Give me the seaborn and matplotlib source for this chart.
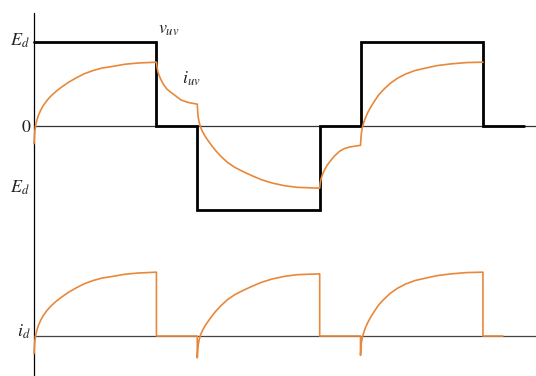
import numpy as np
import pandas as pd
import matplotlib
matplotlib.use("Agg")
import matplotlib.pyplot as plt
import seaborn as sns

# Phase angle (degrees) of the switching instants and output voltage levels (per unit of E_d)
v_angle = [0, 135, 135, 180, 180, 315, 315, 360, 360, 495, 495, 540]
v_level = [1, 1, 0, 0, -1, -1, 0, 0, 1, 1, 0, 0]

# Load current i_uv (per unit), sampled along each interval
seg1_angle = [0, 0.5, 1, 2, 3.5, 5, 7.5, 10, 14, 18, 24, 30, 38, 46, 55, 65, 75, 87,
              100, 115, 135]
seg1_i = [-0.21, -0.12, -0.05, 0.02, 0.08, 0.13, 0.19, 0.24, 0.30, 0.35, 0.41, 0.46,
          0.52, 0.57, 0.62, 0.66, 0.69, 0.71, 0.735, 0.75, 0.76]
seg2_angle = [135, 135.5, 136.5, 138, 140, 143, 146.5, 151, 156, 162, 170, 180]
seg2_i = [0.76, 0.71, 0.65, 0.60, 0.55, 0.49, 0.44, 0.40, 0.36, 0.31, 0.28, 0.26]
seg3_angle = [180, 180.5, 181, 182, 183.5, 185.5, 188, 191, 195, 200, 206, 213, 221,
              230, 240, 251, 263, 276, 290, 302, 315]
seg3_i = [0.26, 0.17, 0.11, 0.05, -0.01, -0.06, -0.11, -0.16, -0.22, -0.29, -0.36,
          -0.43, -0.49, -0.54, -0.59, -0.64, -0.68, -0.71, -0.73, -0.735, -0.74]
seg4_angle = [315, 315.5, 316.5, 318, 320, 323, 326.5, 331, 337, 342, 348, 360]
seg4_i = [-0.74, -0.68, -0.63, -0.58, -0.53, -0.47, -0.42, -0.36, -0.30, -0.27,
          -0.25, -0.23]
seg5_angle = [360, 360.5, 361, 362, 363.5, 365.5, 368, 371, 375, 380, 386, 393, 401,
              410, 420, 432, 445, 460, 477, 495]
seg5_i = [-0.23, -0.14, -0.08, -0.02, 0.04, 0.10, 0.16, 0.22, 0.29, 0.37, 0.44, 0.51,
          0.57, 0.62, 0.66, 0.69, 0.72, 0.74, 0.755, 0.76]

# DC-link current i_d drawn below, on its own baseline
id_offset = -2.5
id_tail_end = 517

ORANGE = "#E8883A"

sns.set_theme(style="white")
plt.rcParams["mathtext.fontset"] = "stix"
plt.rcParams["font.family"] = ["STIXGeneral", "DejaVu Serif"]

fig = plt.figure(figsize=(5.36, 3.76), dpi=100)
ax = fig.add_axes([0, 0, 1, 1])
ax.set_xlim(-37.5, 553.5)
ax.set_ylim(-2.976, 1.5)
ax.axis("off")

# reference lines: vertical axis, zero line, i_d baseline
ax.plot([0, 0], [-2.976, 1.345], color="black", lw=0.9)
ax.plot([0, 553.5], [0, 0], color="#333333", lw=0.9)
ax.plot([0, 553.5], [id_offset, id_offset], color="#444444", lw=0.9)

# output voltage v_uv
vdf = pd.DataFrame({"angle": v_angle, "v": v_level})
sns.lineplot(data=vdf, x="angle", y="v", ax=ax, color="black", lw=2.0,
             estimator=None, sort=False, solid_joinstyle="miter")

# load current i_uv
iuv_angle = seg1_angle + seg2_angle + seg3_angle + seg4_angle + seg5_angle
iuv = seg1_i + seg2_i + seg3_i + seg4_i + seg5_i
idf = pd.DataFrame({"angle": iuv_angle, "i": iuv})
sns.lineplot(data=idf, x="angle", y="i", ax=ax, color=ORANGE, lw=1.2,
             estimator=None, sort=False, solid_joinstyle="round")

# i_d: follows i_uv (or -i_uv) while the phase conducts, zero otherwise
id_angle = (seg1_angle + [135, 180]
            + seg3_angle + [315, 360]
            + seg5_angle + [495, id_tail_end])
id_val = (seg1_i + [0, 0]
          + [-x for x in seg3_i] + [0, 0]
          + seg5_i + [0, 0])
ddf = pd.DataFrame({"angle": id_angle, "i": [v + id_offset for v in id_val]})
sns.lineplot(data=ddf, x="angle", y="i", ax=ax, color=ORANGE, lw=1.2,
             estimator=None, sort=False, solid_joinstyle="round")

tk = dict(fontsize=13, color="#222222", va="center")
ax.text(-15.5, 1.02, r"$E_d$", ha="center", **tk)
ax.text(-8.5, -0.02, "0", ha="center", **tk)
ax.text(-15.5, -0.74, r"$E_d$", ha="center", **tk)
ax.text(-11.5, -2.45, r"$i_d$", ha="center", **tk)
ax.text(136.5, 1.14, r"$v_{uv}$", ha="left", **tk)
ax.text(163, 0.56, r"$i_{uv}$", ha="left", **tk)

fig.savefig("out.png", dpi=100)
